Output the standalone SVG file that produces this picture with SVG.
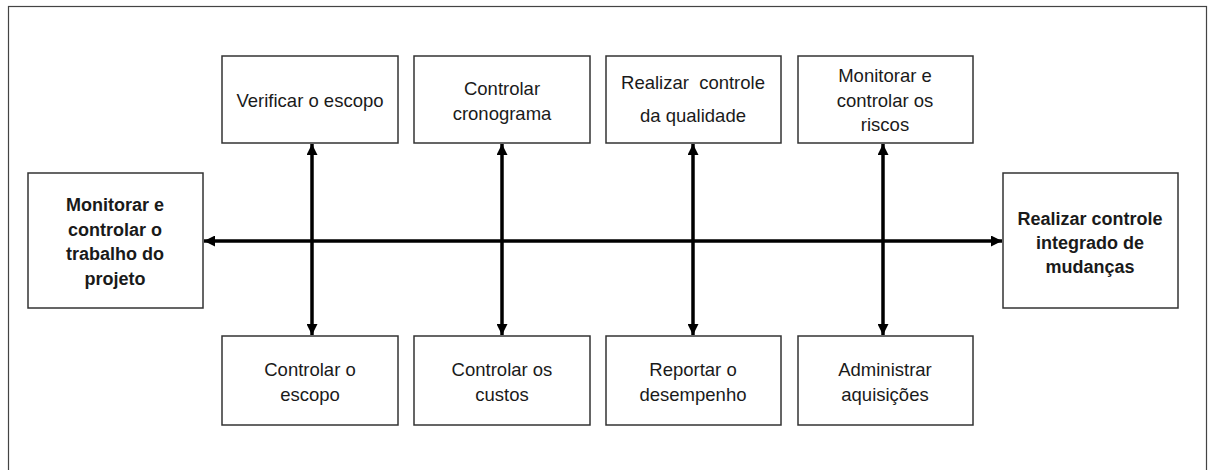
<svg xmlns="http://www.w3.org/2000/svg" width="1208" height="470" viewBox="0 0 1208 470">
<style>
.box{fill:#fff;stroke:#333;stroke-width:1.5}
.t{font-family:"Liberation Sans",Arial,sans-serif;font-size:18.5px;fill:#1a1a1a;text-anchor:middle}
.b{font-weight:bold;font-size:18px}
.c{stroke:#000;stroke-width:3.5;fill:none;marker-start:url(#ah);marker-end:url(#ah)}
</style>
<defs>
<marker id="ah" viewBox="0 0 10 10" refX="10" refY="5" markerWidth="11" markerHeight="11" markerUnits="userSpaceOnUse" orient="auto-start-reverse">
<path d="M0,0 L10,5 L0,10 Z" fill="#000"/>
</marker>
</defs>
<rect x="8.5" y="6.5" width="1198" height="480" fill="#fff" stroke="#444" stroke-width="1.2"/>
<g id="connectors">
<line class="c" x1="204" y1="241" x2="1002" y2="241"/>
<line class="c" x1="312" y1="144" x2="312" y2="335"/>
<line class="c" x1="502" y1="144" x2="502" y2="335"/>
<line class="c" x1="693" y1="144" x2="693" y2="335"/>
<line class="c" x1="883" y1="144" x2="883" y2="335"/>
</g>
<g id="n-monitorar-trabalho">
<rect class="box" x="28" y="173" width="175" height="135"/>
<text class="t b" x="115" y="211">Monitorar e</text>
<text class="t b" x="115" y="236">controlar o</text>
<text class="t b" x="115" y="260">trabalho do</text>
<text class="t b" x="115" y="285">projeto</text>
</g>
<g id="n-controle-integrado">
<rect class="box" x="1003" y="173" width="175" height="135"/>
<text class="t b" x="1090" y="225">Realizar controle</text>
<text class="t b" x="1090" y="249">integrado de</text>
<text class="t b" x="1090" y="273">mudanças</text>
</g>
<g id="n-verificar-escopo">
<rect class="box" x="222" y="56" width="176" height="87"/>
<text class="t" x="310" y="107">Verificar o escopo</text>
</g>
<g id="n-controlar-cronograma">
<rect class="box" x="414" y="56" width="176" height="87"/>
<text class="t" x="502" y="95">Controlar</text>
<text class="t" x="502" y="120">cronograma</text>
</g>
<g id="n-controle-qualidade">
<rect class="box" x="606" y="56" width="175" height="87"/>
<text class="t" x="693" y="89" xml:space="preserve">Realizar  controle</text>
<text class="t" x="693" y="122">da qualidade</text>
</g>
<g id="n-riscos">
<rect class="box" x="798" y="56" width="175" height="87"/>
<text class="t" x="885" y="82">Monitorar e</text>
<text class="t" x="885" y="107">controlar os</text>
<text class="t" x="885" y="131">riscos</text>
</g>
<g id="n-controlar-escopo">
<rect class="box" x="222" y="336" width="176" height="89"/>
<text class="t" x="310" y="376">Controlar o</text>
<text class="t" x="310" y="401">escopo</text>
</g>
<g id="n-controlar-custos">
<rect class="box" x="414" y="336" width="176" height="89"/>
<text class="t" x="502" y="376">Controlar os</text>
<text class="t" x="502" y="401">custos</text>
</g>
<g id="n-reportar-desempenho">
<rect class="box" x="606" y="336" width="175" height="89"/>
<text class="t" x="693" y="376">Reportar o</text>
<text class="t" x="693" y="401">desempenho</text>
</g>
<g id="n-administrar-aquisicoes">
<rect class="box" x="798" y="336" width="175" height="89"/>
<text class="t" x="885" y="376">Administrar</text>
<text class="t" x="885" y="401">aquisições</text>
</g>
</svg>
